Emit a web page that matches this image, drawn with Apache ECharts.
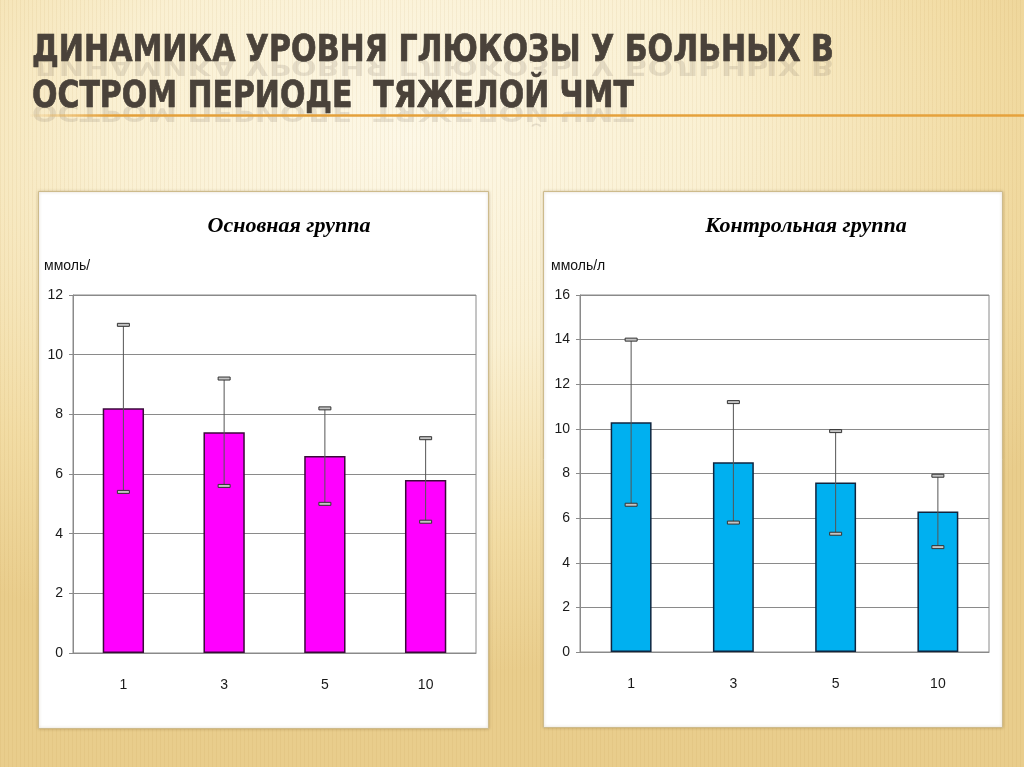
<!DOCTYPE html>
<html>
<head>
<meta charset="utf-8">
<script src="https://cdn.jsdelivr.net/npm/echarts@6/dist/echarts.min.js"></script>
<style>
html,body{margin:0;padding:0;width:1024px;height:767px;overflow:hidden;}
body{
  background-color:#f3dfa8;
  background-image:
    repeating-linear-gradient(90deg, rgba(170,120,40,0.07) 0px, rgba(170,120,40,0.07) 1px, rgba(255,255,255,0) 1px, rgba(255,255,255,0) 4px),
    radial-gradient(ellipse 75% 70% at 40% 18%, #fdf8e7 0%, #faf0d2 40%, #f2dca4 75%, #e9cd8c 100%);
}
#chart{width:1024px;height:767px;}
</style>
</head>
<body>
<div id="chart"></div>
<script>
const categories = ['1', '3', '5', '10'];
const mainMean = [8.2, 7.4, 6.6, 5.8];
const mainSd = [2.8, 1.8, 1.6, 1.4];
const controlMean = [10.3, 8.5, 7.6, 6.3];
const controlSd = [3.7, 2.7, 2.3, 1.6];
const mainMax = 12;
const controlMax = 16;
const titleLine1 = 'ДИНАМИКА УРОВНЯ ГЛЮКОЗЫ У БОЛЬНЫХ В';
const titleLine2 = 'ОСТРОМ ПЕРИОДЕ  ТЯЖЕЛОЙ ЧМТ';
const mainTitle = 'Основная группа';
const controlTitle = 'Контрольная группа';
const mainUnit = 'ммоль/';
const controlUnit = 'ммоль/л';

const chart = echarts.init(document.getElementById('chart'), null, {renderer: 'canvas'});

const titleFont = 'bold 37px "Liberation Sans Narrow", "DejaVu Sans Condensed", "Arial Narrow", sans-serif';
const measureCtx = document.createElement('canvas').getContext('2d');
function fitScale(text, font, target) {
  measureCtx.font = font;
  return target / measureCtx.measureText(text).width;
}
const sx1 = fitScale(titleLine1, titleFont, 802);
const sx2 = fitScale(titleLine2, titleFont, 602);

function errItem(params, api) {
  const hi = api.coord([api.value(0), api.value(2)]);
  const lo = api.coord([api.value(0), api.value(1)]);
  const w = 12, h = 3;
  return {
    type: 'group',
    children: [
      {type: 'line', shape: {x1: hi[0], y1: hi[1], x2: lo[0], y2: lo[1]}, style: {stroke: '#555', lineWidth: 1}},
      {type: 'rect', shape: {x: hi[0] - w / 2, y: hi[1] - h / 2, width: w, height: h}, style: {fill: '#c4c4c4', stroke: '#333', lineWidth: 1}},
      {type: 'rect', shape: {x: lo[0] - w / 2, y: lo[1] - h / 2, width: w, height: h}, style: {fill: '#c4c4c4', stroke: '#333', lineWidth: 1}}
    ]
  };
}

const labelFont = '"Liberation Sans", Arial, sans-serif';
function xAxisCfg(idx) {
  return {
    type: 'category', gridIndex: idx, data: categories,
    axisLine: {show: true, lineStyle: {color: '#8a8a8a', width: 1}},
    axisTick: {show: false},
    axisLabel: {margin: 25, fontSize: 14, color: '#1a1a1a', fontFamily: labelFont},
    splitLine: {show: false}
  };
}
function yAxisCfg(idx, max) {
  return {
    type: 'value', gridIndex: idx, min: 0, max: max, interval: 2,
    axisLine: {show: true, lineStyle: {color: '#8a8a8a', width: 1}},
    axisTick: {show: true, length: 4, lineStyle: {color: '#8a8a8a'}},
    axisLabel: {margin: 10, fontSize: 14, color: '#1a1a1a', fontFamily: labelFont},
    splitLine: {show: true, lineStyle: {color: '#8a8a8a', width: 1}}
  };
}

function titleText(text, y, sx) {
  return [
    {type: 'text', z: -6, x: 32, y: y + 14, scaleX: sx, scaleY: -0.6, style: {text: text, font: titleFont, fill: 'rgba(90,80,70,0.14)', verticalAlign: 'middle'}},
    {type: 'text', z: 5, x: 32, y: y, scaleX: sx, style: {text: text, font: titleFont, fill: '#4a423a', verticalAlign: 'middle', stroke: '#2e2822', lineWidth: 0.6}}
  ];
}

const option = {
  animation: false,
  graphic: {
    elements: [
      {type: 'rect', z: -10, shape: {x: 38.5, y: 191.5, width: 450, height: 537}, style: {fill: '#ffffff', stroke: '#cdbb8c', lineWidth: 1, shadowBlur: 3, shadowColor: 'rgba(120,90,30,0.35)'}},
      {type: 'rect', z: -10, shape: {x: 543.5, y: 191.5, width: 459, height: 536}, style: {fill: '#ffffff', stroke: '#cdbb8c', lineWidth: 1, shadowBlur: 3, shadowColor: 'rgba(120,90,30,0.35)'}},
      {type: 'line', z: -5, shape: {x1: 30, y1: 115.5, x2: 1024, y2: 115.5}, style: {lineWidth: 2.5, stroke: new echarts.graphic.LinearGradient(0, 0, 1, 0, [{offset: 0, color: 'rgba(230,160,50,0)'}, {offset: 0.08, color: '#e4a03a'}, {offset: 1, color: '#e6a23c'}])}},
      ...titleText(titleLine1, 51, sx1),
      ...titleText(titleLine2, 97, sx2),
      {type: 'text', x: 289, y: 226, style: {text: mainTitle, font: 'italic bold 22px "Liberation Serif", "Times New Roman", serif', fill: '#000', align: 'center', verticalAlign: 'middle'}},
      {type: 'text', x: 806, y: 226, style: {text: controlTitle, font: 'italic bold 22px "Liberation Serif", "Times New Roman", serif', fill: '#000', align: 'center', verticalAlign: 'middle'}},
      {type: 'text', x: 44, y: 266, style: {text: mainUnit, font: '14px ' + labelFont, fill: '#111', verticalAlign: 'middle'}},
      {type: 'text', x: 551, y: 266, style: {text: controlUnit, font: '14px ' + labelFont, fill: '#111', verticalAlign: 'middle'}}
    ]
  },
  grid: [
    {left: 73, top: 295, width: 403, height: 358, show: true, borderColor: '#8a8a8a', borderWidth: 1, backgroundColor: 'transparent'},
    {left: 580, top: 295, width: 409, height: 357, show: true, borderColor: '#8a8a8a', borderWidth: 1, backgroundColor: 'transparent'}
  ],
  xAxis: [xAxisCfg(0), xAxisCfg(1)],
  yAxis: [yAxisCfg(0, mainMax), yAxisCfg(1, controlMax)],
  series: [
    {
      type: 'bar', xAxisIndex: 0, yAxisIndex: 0, data: mainMean, barWidth: '41%',
      itemStyle: {color: '#ff00ff', borderColor: '#3a0a3a', borderWidth: 1.5}
    },
    {
      type: 'custom', xAxisIndex: 0, yAxisIndex: 0, z: 5,
      renderItem: errItem,
      encode: {x: 0, y: [1, 2]},
      data: mainMean.map((m, i) => [i, +(m - mainSd[i]).toFixed(2), +(m + mainSd[i]).toFixed(2)])
    },
    {
      type: 'bar', xAxisIndex: 1, yAxisIndex: 1, data: controlMean, barWidth: '40%',
      itemStyle: {color: '#00b0f0', borderColor: '#10253f', borderWidth: 1.5}
    },
    {
      type: 'custom', xAxisIndex: 1, yAxisIndex: 1, z: 5,
      renderItem: errItem,
      encode: {x: 0, y: [1, 2]},
      data: controlMean.map((m, i) => [i, +(m - controlSd[i]).toFixed(2), +(m + controlSd[i]).toFixed(2)])
    }
  ]
};
chart.setOption(option);
</script>
</body>
</html>
